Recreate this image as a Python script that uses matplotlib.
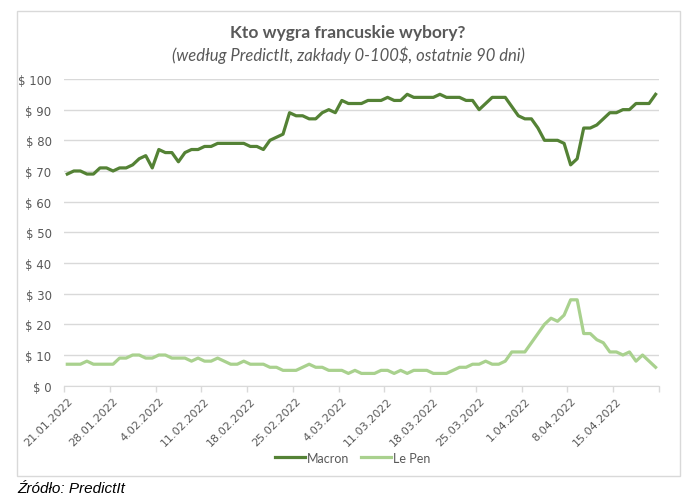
import matplotlib
matplotlib.use('Agg')
import matplotlib.pyplot as plt
import pandas as pd
from matplotlib.patches import Rectangle

# dane: ceny kontraktow PredictIt (USD), 21.01.2022 - 21.04.2022
daty = pd.date_range('2022-01-21', periods=91, freq='D')

macron = [69, 70, 70, 69, 69, 71, 71, 70, 71, 71,
          72, 74, 75, 71, 77, 76, 76, 73, 76, 77,
          77, 78, 78, 79, 79, 79, 79, 79, 78, 78,
          77, 80, 81, 82, 89, 88, 88, 87, 87, 89,
          90, 89, 93, 92, 92, 92, 93, 93, 93, 94,
          93, 93, 95, 94, 94, 94, 94, 95, 94, 94,
          94, 93, 93, 90, 92, 94, 94, 94, 91, 88,
          87, 87, 84, 80, 80, 80, 79, 72, 74, 84,
          84, 85, 87, 89, 89, 90, 90, 92, 92, 92,
          95]

le_pen = [7, 7, 7, 8, 7, 7, 7, 7, 9, 9,
          10, 10, 9, 9, 10, 10, 9, 9, 9, 8,
          9, 8, 8, 9, 8, 7, 7, 8, 7, 7,
          7, 6, 6, 5, 5, 5, 6, 7, 6, 6,
          5, 5, 5, 4, 5, 4, 4, 4, 5, 5,
          4, 5, 4, 5, 5, 5, 4, 4, 4, 5,
          6, 6, 7, 7, 8, 7, 7, 8, 11, 11,
          11, 14, 17, 20, 22, 21, 23, 28, 28, 17,
          17, 15, 14, 11, 11, 10, 11, 8, 10, 8,
          6]

szary = '#595959'
siatka = '#d9d9d9'

fig = plt.figure(figsize=(6.99, 5.02), dpi=100)
ax = fig.add_axes([0.0916, 0.2297, 0.851, 0.611])

# ramka wykresu jak w Excelu
fig.patches.append(Rectangle((17 / 699, 1 - 477 / 502), 663 / 699, 465 / 502,
                             transform=fig.transFigure, fill=False,
                             edgecolor=siatka, linewidth=1))

x = list(range(len(daty)))
ax.plot(x, macron, color='#548235', linewidth=2.3, label='Macron',
        solid_joinstyle='round')
ax.plot(x, le_pen, color='#a9d18e', linewidth=2.3, label='Le Pen',
        solid_joinstyle='round')

ax.set_xlim(-0.5, len(daty) - 0.5)
ax.set_ylim(0, 100)

# os y
ax.set_yticks(range(0, 101, 10))
ax.set_yticklabels([f'$ {v}' for v in range(0, 101, 10)])
ax.yaxis.grid(True, color=siatka, linewidth=1)
ax.set_axisbelow(True)
ax.tick_params(axis='y', length=0, pad=9, labelsize=8.5, labelcolor=szary)

# os x - etykiety co 7 dni
poz = list(range(0, len(daty), 7))
ax.set_xticks(poz)
ax.set_xticklabels([f'{daty[i].day}.{daty[i].month:02d}.{daty[i].year}' for i in poz],
                   rotation=45, ha='right', va='top', rotation_mode='anchor')
ax.tick_params(axis='x', length=0, pad=7, labelsize=8, labelcolor=szary)
ax.set_xticks([p - 0.5 for p in range(0, len(daty) + 1, 7)], minor=True)
ax.tick_params(axis='x', which='minor', length=4, color=siatka, width=1)

for s in ['top', 'right', 'left']:
    ax.spines[s].set_visible(False)
ax.spines['bottom'].set_color(siatka)

fig.text(0.498, 1 - 33 / 502, 'Kto wygra francuskie wybory?', ha='center', va='center',
         fontsize=12.5, fontweight='bold', color=szary, family='Lato')
fig.text(0.498, 1 - 55 / 502, '(według PredictIt, zakłady 0-100$, ostatnie 90 dni)',
         ha='center', va='center', fontsize=12, style='italic', color=szary, family='Lato')

ax.legend(loc='center', bbox_to_anchor=(0.485, -0.235), ncol=2, frameon=False,
          fontsize=8.5, labelcolor=szary, handlelength=2.4, handletextpad=0.1,
          columnspacing=1.0, prop={'family': 'Lato', 'size': 9})

fig.text(17 / 699, 1 - 489 / 502, 'Źródło: PredictIt', ha='left', va='center',
         fontsize=11, style='italic', color='black', family='Liberation Sans')

fig.savefig('out.png', dpi=100)
